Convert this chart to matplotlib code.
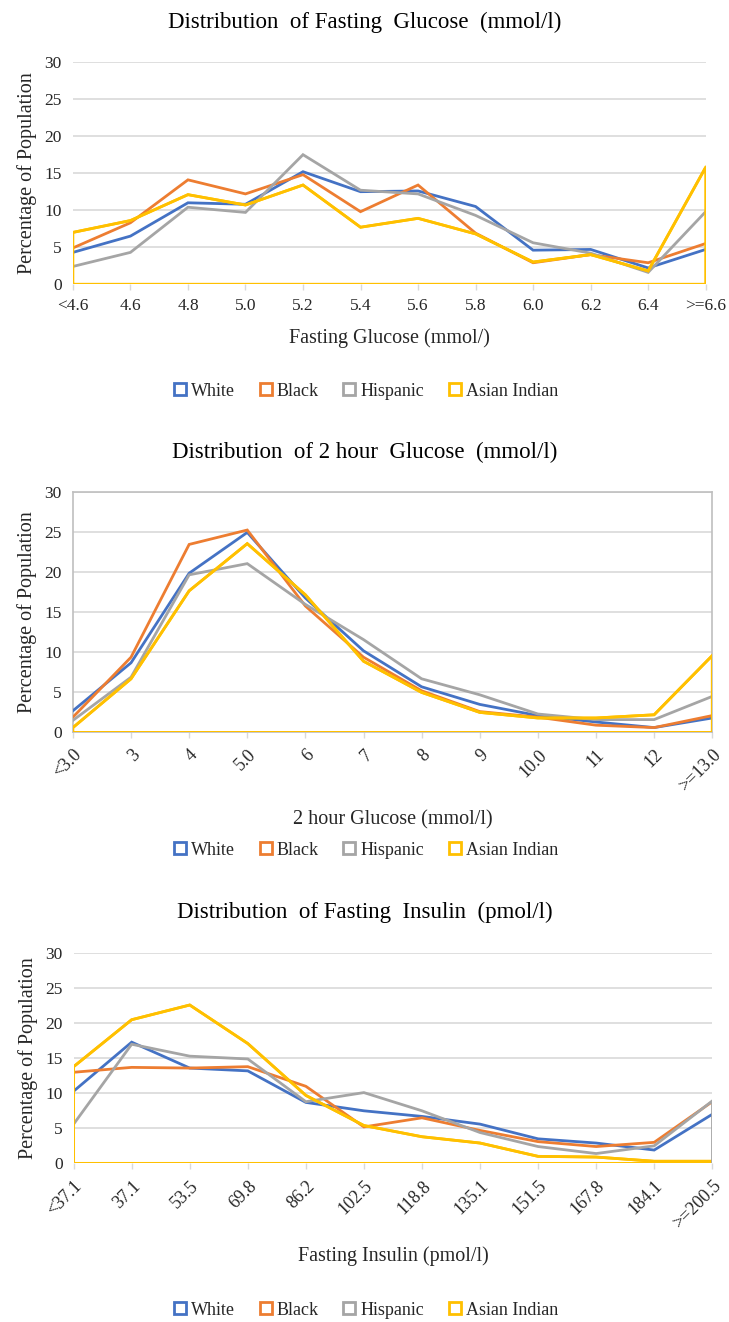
import matplotlib
matplotlib.use("Agg")
import matplotlib.pyplot as plt
from matplotlib.lines import Line2D

plt.rcParams["font.family"] = ["Liberation Serif", "DejaVu Serif"]

# series order and Excel-style colours
groups = ["White", "Black", "Hispanic", "Asian Indian"]
group_colors = ["#4472C4", "#ED7D31", "#A5A5A5", "#FFC000"]

# Fasting glucose (mmol/l)
fg_labels = ["<4.6", "4.6", "4.8", "5.0", "5.2", "5.4", "5.6", "5.8", "6.0", "6.2", "6.4", ">=6.6"]
fg_white = [4.3, 6.5, 11.0, 10.8, 15.2, 12.5, 12.6, 10.5, 4.6, 4.7, 2.2, 4.7]
fg_black = [4.9, 8.3, 14.1, 12.2, 14.8, 9.8, 13.4, 6.9, 2.9, 4.0, 2.9, 5.5]
fg_hispanic = [2.4, 4.3, 10.4, 9.7, 17.5, 12.7, 12.2, 9.3, 5.6, 4.2, 1.6, 9.8]
fg_asian = [7.0, 8.6, 12.1, 10.7, 13.4, 7.7, 8.9, 6.8, 3.0, 4.0, 1.8, 15.8]

# 2 hour glucose (mmol/l)
hg_labels = ["<3.0", "3", "4", "5.0", "6", "7", "8", "9", "10.0", "11", "12", ">=13.0"]
hg_white = [2.7, 8.7, 19.9, 25.0, 16.8, 10.2, 5.7, 3.5, 2.1, 1.3, 0.6, 1.8]
hg_black = [1.9, 9.4, 23.5, 25.3, 15.8, 9.4, 5.2, 2.6, 1.9, 0.9, 0.6, 2.1]
hg_hispanic = [1.5, 6.9, 19.7, 21.1, 16.0, 11.6, 6.7, 4.7, 2.3, 1.6, 1.6, 4.5]
hg_asian = [0.6, 6.7, 17.7, 23.6, 17.2, 8.9, 5.0, 2.5, 1.8, 1.8, 2.2, 9.6]

# Fasting insulin (pmol/l)
fi_labels = ["<37.1", "37.1", "53.5", "69.8", "86.2", "102.5", "118.8", "135.1",
             "151.5", "167.8", "184.1", ">=200.5"]
fi_white = [10.3, 17.3, 13.6, 13.2, 8.7, 7.5, 6.7, 5.6, 3.5, 2.9, 1.9, 7.0]
fi_black = [13.0, 13.7, 13.6, 13.8, 11.0, 5.2, 6.5, 4.7, 3.1, 2.4, 3.0, 8.8]
fi_hispanic = [5.6, 17.0, 15.3, 14.9, 8.8, 10.1, 7.5, 4.4, 2.4, 1.4, 2.5, 8.9]
fi_asian = [13.8, 20.5, 22.6, 17.1, 9.7, 5.4, 3.8, 2.9, 1.0, 0.9, 0.3, 0.3]

TEXT = "#262626"
GRID = "#D9D9D9"
LW = 2.0


def draw_panel(fig, rect, labels, series, title, title_y, xlabel, xlabel_y,
               legend_y, rotate=False, boxed=False, close_gray=False):
    ax = fig.add_axes(rect)
    x = list(range(len(labels)))
    for vals, color in zip(series, group_colors):
        ax.plot(x, vals, color=color, lw=LW, solid_joinstyle="miter", zorder=3)
    # the last series is drawn as a closed outline down to zero
    asian = series[-1]
    ax.plot([x[0]] + x + [x[-1], x[0]], [0] + asian + [0, 0],
            color=group_colors[-1], lw=LW, zorder=3, solid_joinstyle="miter")
    if close_gray:
        ax.vlines(x[-1], 0, series[2][-1], color=group_colors[2], lw=LW, zorder=3)

    ax.set_xlim(x[0], x[-1])
    ax.set_ylim(0, 30)
    ax.set_yticks(range(0, 31, 5))
    ax.yaxis.grid(True, color=GRID, lw=1.2, zorder=0)
    ax.set_axisbelow(True)
    ax.set_xticks(x)
    if rotate:
        ax.set_xticklabels(labels, rotation=45, ha="right", rotation_mode="anchor")
        xsize = 13
    else:
        ax.set_xticklabels(labels)
        xsize = 12.5
    ax.tick_params(axis="y", length=0, pad=8, labelsize=12.5, labelcolor=TEXT)
    ax.tick_params(axis="x", length=4, width=1, color=GRID, pad=6,
                   labelsize=xsize, labelcolor=TEXT)
    for side in ["top", "right", "left", "bottom"]:
        if boxed:
            ax.spines[side].set_color("#BFBFBF")
            ax.spines[side].set_linewidth(1.2)
        else:
            ax.spines[side].set_visible(False)
    ax.set_ylabel("Percentage of Population", fontsize=14.5, color=TEXT, labelpad=5)

    cx = rect[0] + rect[2] / 2
    fig.text(0.5, title_y, title, ha="center", va="center", fontsize=16.5, color="black")
    fig.text(cx, xlabel_y, xlabel, ha="center", va="center", fontsize=14.5, color=TEXT)

    handles = [Line2D([], [], ls="none", marker="s", markersize=8,
                      markerfacecolor="white", markeredgecolor=c, markeredgewidth=2)
               for c in group_colors]
    fig.legend(handles, groups, loc="center", bbox_to_anchor=(0.5, legend_y),
               ncol=4, frameon=False, fontsize=13, handletextpad=0.1,
               columnspacing=1.2, handlelength=1.0, labelcolor=TEXT)
    return ax


fig = plt.figure(figsize=(7.29, 13.22), dpi=100)

draw_panel(fig, [0.100, 0.785, 0.868, 0.168], fg_labels,
           [fg_white, fg_black, fg_hispanic, fg_asian],
           "Distribution  of Fasting  Glucose  (mmol/l)", 0.983,
           "Fasting Glucose (mmol/)", 0.744, 0.704)

draw_panel(fig, [0.100, 0.446, 0.877, 0.1815], hg_labels,
           [hg_white, hg_black, hg_hispanic, hg_asian],
           "Distribution  of 2 hour  Glucose  (mmol/l)", 0.658,
           "2 hour Glucose (mmol/l)", 0.380, 0.357, rotate=True, boxed=True)

draw_panel(fig, [0.101, 0.120, 0.876, 0.159], fi_labels,
           [fi_white, fi_black, fi_hispanic, fi_asian],
           "Distribution  of Fasting  Insulin  (pmol/l)", 0.310,
           "Fasting Insulin (pmol/l)", 0.050, 0.009, rotate=True, close_gray=True)

fig.savefig("out.png", dpi=100, facecolor="white")
